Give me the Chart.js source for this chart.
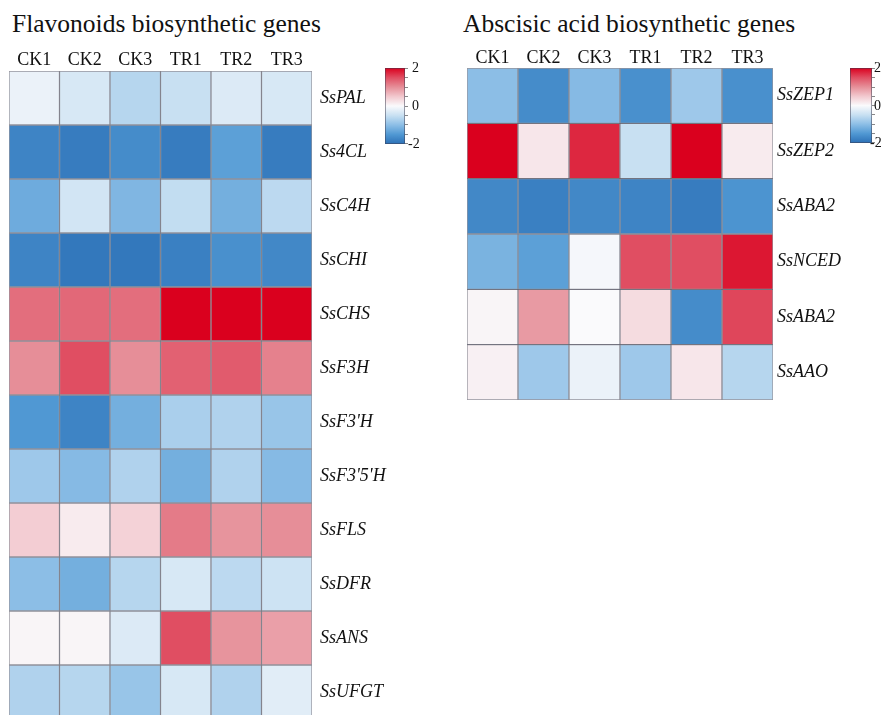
<!DOCTYPE html>
<html>
<head>
<meta charset="utf-8">
<script src="https://cdn.jsdelivr.net/npm/chart.js@4.4.1/dist/chart.umd.min.js"></script>
<style>
  html, body { margin: 0; padding: 0; background: #fff; overflow: hidden; }
  #page { position: relative; width: 883px; height: 715px; overflow: hidden; }
  .title { position: absolute; top: 11px; font: 25.5px/25px "Liberation Serif", "Times New Roman", serif; color: #111; white-space: nowrap; }
  .panel { position: absolute; top: 0; }
  .cbar { position: absolute; border: 1px solid rgba(60,60,80,0.5); box-sizing: border-box; background-origin: border-box; background-repeat: no-repeat; }
  .cbtick { position: absolute; width: 3px; height: 1px; background: #888; }
  .cblabel { position: absolute; font: 14px "Liberation Serif", "Times New Roman", serif; color: #111; line-height: 14px; }
</style>
</head>
<body>
<div id="page">
  <div class="title" style="left:12px">Flavonoids biosynthetic genes</div>
  <div class="title" style="left:463px">Abscisic acid biosynthetic genes</div>
  <div class="panel" style="left:0px"><canvas id="flav" width="440" height="719"></canvas></div>
  <div class="panel" style="left:460px"><canvas id="aba" width="423" height="400"></canvas></div>
</div>
<script>
// ---- data ----
const columns = ['CK1', 'CK2', 'CK3', 'TR1', 'TR2', 'TR3'];

const flavGenes = ['SsPAL', 'Ss4CL', 'SsC4H', 'SsCHI', 'SsCHS', 'SsF3H',
                   "SsF3'H", "SsF3'5'H", 'SsFLS', 'SsDFR', 'SsANS', 'SsUFGT'];
const flavValues = [
  [-0.15, -0.35, -0.65, -0.50, -0.30, -0.35],
  [-1.75, -1.85, -1.65, -1.85, -1.40, -1.85],
  [-1.25, -0.40, -1.10, -0.55, -1.20, -0.60],
  [-1.75, -1.90, -1.90, -1.80, -1.60, -1.70],
  [ 1.25,  1.30,  1.25,  2.00,  2.00,  2.00],
  [ 1.00,  1.50,  1.00,  1.35,  1.40,  1.10],
  [-1.50, -1.75, -1.20, -0.75, -0.70, -0.90],
  [-0.85, -1.05, -0.70, -1.20, -0.70, -1.05],
  [ 0.45,  0.15,  0.40,  1.15,  0.95,  1.00],
  [-1.00, -1.20, -0.65, -0.35, -0.60, -0.45],
  [ 0.05,  0.05, -0.30,  1.50,  0.95,  0.85],
  [-0.70, -0.65, -0.90, -0.35, -0.70, -0.25]
];

const abaGenes = ['SsZEP1', 'SsZEP2', 'SsABA2', 'SsNCED', 'SsABA2', 'SsAAO'];
const abaValues = [
  [-1.00, -1.65, -1.05, -1.60, -0.85, -1.60],
  [ 2.00,  0.20,  1.75, -0.50,  2.00,  0.15],
  [-1.70, -1.80, -1.70, -1.75, -1.85, -1.55],
  [-1.15, -1.40, -0.05,  1.50,  1.50,  1.85],
  [ 0.05,  0.90,  0.00,  0.30, -1.65,  1.55],
  [ 0.10, -0.85, -0.15, -0.85,  0.20, -0.65]
];

const legendTicks = [2, 0, -2];

// ---- colour scale (-2 .. 2) ----
const colorStops = [
  [-2.0, [44, 112, 182]],
  [-1.5, [80, 152, 211]],
  [-1.0, [140, 190, 230]],
  [-0.5, [200, 224, 242]],
  [ 0.0, [250, 250, 252]],
  [ 0.5, [242, 200, 206]],
  [ 1.0, [230, 142, 152]],
  [ 1.5, [224, 78, 98]],
  [ 2.0, [218, 0, 30]]
];
function colorFor(v) {
  v = Math.max(-2, Math.min(2, v));
  for (let i = 0; i < colorStops.length - 1; i++) {
    const [a, ca] = colorStops[i], [b, cb] = colorStops[i + 1];
    if (v >= a && v <= b) {
      const t = (v - a) / (b - a);
      const c = ca.map((x, k) => Math.round(x + (cb[k] - x) * t));
      return `rgb(${c[0]},${c[1]},${c[2]})`;
    }
  }
  return 'rgb(250,250,252)';
}

function makeHeatmap(id, genes, values, cfg) {
  const datasets = genes.map((g, r) => ({
    label: g,
    data: columns.map(() => [r, r + 1]),
    backgroundColor: values[r].map(colorFor),
    borderColor: 'rgba(20,20,40,0.45)',
    borderWidth: 1,
    borderSkipped: false,
    grouped: false,
    barPercentage: 1,
    categoryPercentage: 1
  }));
  const noPad = s => { s.paddingTop = 0; s.paddingBottom = 0; s.paddingLeft = 0; s.paddingRight = 0; };
  return new Chart(document.getElementById(id), {
    type: 'bar',
    data: { labels: columns, datasets },
    options: {
      responsive: false,
      animation: false,
      layout: { padding: { left: cfg.left, right: 0, top: 0, bottom: 0 } },
      plugins: { legend: { display: false }, tooltip: { enabled: false }, title: { display: false } },
      scales: {
        x: {
          type: 'category', position: 'top',
          grid: { display: false, drawTicks: false }, border: { display: false },
          ticks: { color: '#111', padding: cfg.xPad, font: { family: 'Liberation Serif', size: 18 } },
          afterFit: s => { s.height = cfg.top; noPad(s); }
        },
        y: { type: 'linear', min: 0, max: genes.length, reverse: true, display: false },
        y2: {
          type: 'category', labels: genes, position: 'right', offset: true,
          grid: { display: false, drawTicks: false }, border: { display: false },
          ticks: { color: '#111', padding: cfg.yPad, autoSkip: false,
                   font: { family: 'Liberation Serif', size: 18, style: 'italic' } },
          afterFit: s => { s.width = cfg.rightW; noPad(s); }
        }
      }
    }
  });
}

makeHeatmap('flav', flavGenes, flavValues, { left: 9, top: 71, rightW: 128, xPad: 0, yPad: 8, bottom: 719 });
makeHeatmap('aba', abaGenes, abaValues, { left: 7, top: 68, rightW: 110, xPad: -1, yPad: 4 });

// ---- colour bars ----
function colorBar(x, y, w, h, lx) {
  const page = document.getElementById('page');
  const bar = document.createElement('div');
  bar.className = 'cbar';
  const stops = colorStops.slice().reverse().map(([v, c]) =>
    `rgb(${c[0]},${c[1]},${c[2]}) ${((2 - v) / 4 * 100).toFixed(1)}%`).join(',');
  Object.assign(bar.style, { left: x + 'px', top: y + 'px', width: w + 'px', height: h + 'px',
    backgroundImage: `linear-gradient(to bottom, ${stops})` });
  page.appendChild(bar);
  for (let k = 0; k <= 8; k++) {
    const t = document.createElement('div');
    t.className = 'cbtick';
    Object.assign(t.style, { left: (x + w) + 'px', top: (y + Math.round(k * (h - 1) / 8)) + 'px' });
    page.appendChild(t);
  }
  legendTicks.forEach(v => {
    const l = document.createElement('div');
    l.className = 'cblabel';
    l.textContent = String(v);
    const cy = y + (2 - v) / 4 * h;
    Object.assign(l.style, { left: (x + w + lx - (v < 0 ? 4 : 0)) + 'px', top: (cy - 7) + 'px' });
    page.appendChild(l);
  });
}
colorBar(385, 68, 20, 76, 7);
colorBar(850, 68, 22, 75, 2);
</script>
</body>
</html>
